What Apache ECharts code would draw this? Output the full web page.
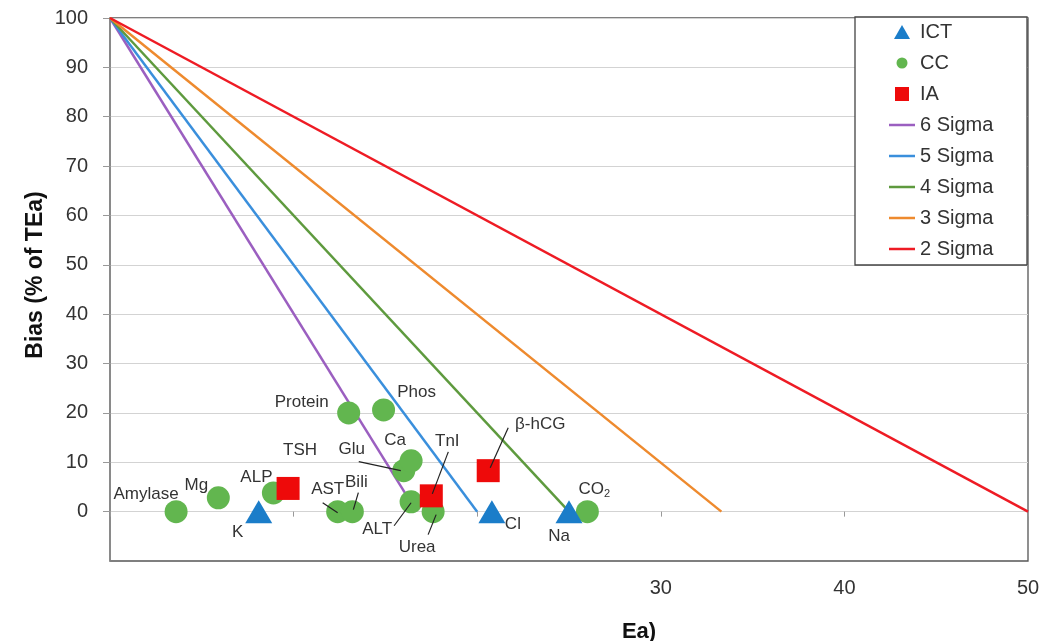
<!DOCTYPE html>
<html><head><meta charset="utf-8">
<script src="https://cdn.jsdelivr.net/npm/echarts@6/dist/echarts.min.js"></script>
<style>html,body{margin:0;padding:0;background:#fff}#c{width:1063px;height:641px}</style>
</head><body><div id="c"></div>
<script>
// ---- data ----
const ictNames = ['K', 'Cl', 'Na'];
const ictX = [8.1, 20.8, 25.0];
const ictY = [0, 0, 0];

const ccNames = ['Amylase', 'Mg', 'ALP', 'Protein', 'Phos', 'AST', 'Bili', 'Glu', 'Ca', 'ALT', 'Urea', 'CO2'];
const ccX = [3.6, 5.9, 8.9, 13.0, 14.9, 12.4, 13.2, 16.0, 16.4, 16.4, 17.6, 26.0];
const ccY = [0, 2.8, 3.8, 20.0, 20.6, 0, 0, 8.3, 10.3, 2.0, 0, 0];

const iaNames = ['TSH', 'TnI', 'β-hCG'];
const iaX = [9.7, 17.5, 20.6];
const iaY = [4.7, 3.2, 8.3];

const sigmaNames = ['6 Sigma', '5 Sigma', '4 Sigma', '3 Sigma', '2 Sigma'];
const sigmaXIntercept = [16.7, 20, 25, 33.3, 50];
const sigmaYIntercept = [100, 100, 100, 100, 100];

const xTickLabelsShown = ['30', '40', '50'];
const yTickLabels = ['0', '10', '20', '30', '40', '50', '60', '70', '80', '90', '100'];
const yTitle = 'Bias (% of TEa)';
const xTitleVisible = 'Ea)';

// ---- styles (label offsets in px relative to marker centre) ----
const labelCfg = {
  'Amylase': {off: [-30, -17]},
  'Mg': {off: [-22, -13]},
  'ALP': {off: [-17, -16]},
  'Protein': {off: [-47, -11]},
  'Phos': {off: [33, -18]},
  'AST': {off: [-10, -22], lead: [[-15, -9], [0, 1]]},
  'Bili': {off: [4, -29], lead: [[6, -19], [1, -2]]},
  'Glu': {off: [-52, -21], lead: [[-45, -9], [-3, 0]]},
  'Ca': {off: [-16, -20]},
  'ALT': {off: [-34, 28], lead: [[-17, 24], [0, 1]]},
  'Urea': {off: [-16, 36], lead: [[-5, 23], [3, 3]]},
  'CO2': {off: [7, -22]},
  'TSH': {off: [12, -38]},
  'TnI': {off: [16, -55], lead: [[17, -44], [1, -2]]},
  'β-hCG': {off: [52, -46], lead: [[20, -43], [2, -3]]},
  'K': {off: [-21, 21]},
  'Cl': {off: [21, 13]},
  'Na': {off: [-10, 25]}
};
const sigmaColors = ['#9B5FC0', '#3A8FDC', '#5E9A3E', '#EE8A2E', '#EE1B24'];
const FONT = '"Liberation Sans", Arial, sans-serif';
const ICON_TRI = 'path://M8,0L16,14L0,14Z';
const ICON_SQ = 'path://M0,0H14V14H0Z';
const ICON_CIRC = 'path://M0,0M14,14M7,1.5A5.5,5.5 0 1,1 7,12.5A5.5,5.5 0 1,1 7,1.5Z';
const ICON_LINE = 'path://M0,0H26V2.5H0Z';

function pts(names, xs, ys) {
  return names.map((n, i) => ({
    name: n, value: [xs[i], ys[i]],
    label: {offset: (labelCfg[n] || {off: [0, -20]}).off}
  }));
}
const ptLabel = {
  show: true, position: 'inside', color: '#333', fontSize: 17, fontFamily: FONT,
  textBorderWidth: 0,
  formatter: p => p.name === 'CO2' ? 'CO{s|2}' : p.name,
  rich: {s: {fontSize: 11, color: '#333', fontFamily: FONT, padding: [9, 0, 0, 0]}}
};

const series = sigmaNames.map((n, i) => ({
  name: n, type: 'line', symbol: 'none', silent: true, z: 2,
  lineStyle: {width: 2.5, color: sigmaColors[i]}, itemStyle: {color: sigmaColors[i]},
  data: [[0, sigmaYIntercept[i]], [sigmaXIntercept[i], 0]]
}));
series.push(
  {name: 'ICT', type: 'scatter', symbol: 'triangle', symbolSize: [27, 23], z: 5,
   itemStyle: {color: '#1B7DC9', opacity: 1}, label: ptLabel, data: pts(ictNames, ictX, ictY)},
  {name: 'CC', type: 'scatter', symbol: 'circle', symbolSize: 23, z: 4,
   itemStyle: {color: '#62B64F', opacity: 1}, label: ptLabel, data: pts(ccNames, ccX, ccY)},
  {name: 'IA', type: 'scatter', symbol: 'rect', symbolSize: 23, z: 5,
   itemStyle: {color: '#EE0A0A', opacity: 1}, label: ptLabel, data: pts(iaNames, iaX, iaY)}
);

const chart = echarts.init(document.getElementById('c'), null, {renderer: 'canvas'});
const baseGraphic = [
  {id: 'legendBox', type: 'rect', z: 3, shape: {x: 855, y: 17, width: 172, height: 248},
   style: {fill: '#fff', stroke: '#444', lineWidth: 1.3}},
  {id: 'yTitle', type: 'text', x: 36, y: 275, rotation: Math.PI / 2, z: 3,
   style: {text: yTitle, font: 'bold 23px ' + FONT, fill: '#111', align: 'center', verticalAlign: 'middle'}},
  {id: 'xTitle', type: 'text', x: 639, y: 632, z: 3,
   style: {text: xTitleVisible, font: 'bold 22px ' + FONT, fill: '#111', align: 'center', verticalAlign: 'middle'}}
];
const legendData = [
  {name: 'ICT', icon: ICON_TRI},
  {name: 'CC', icon: ICON_CIRC},
  {name: 'IA', icon: ICON_SQ}
].concat(sigmaNames.map(n => ({name: n, icon: ICON_LINE})));
const yTickValues = yTickLabels.map(Number);

const option = {
  animation: false,
  backgroundColor: '#fff',
  grid: {left: 110, right: 35, top: 18, bottom: 80, show: true, borderColor: '#555', borderWidth: 1.3},
  xAxis: [
    {type: 'value', min: 0, max: 50, interval: 10, position: 'bottom',
     axisLine: {show: false, onZero: false}, axisTick: {show: false}, splitLine: {show: false},
     axisLabel: {margin: 17, fontSize: 20, color: '#333', fontFamily: FONT,
       formatter: v => xTickLabelsShown.indexOf(String(v)) >= 0 ? String(v) : ''}},
    {type: 'value', min: 0, max: 50, interval: 10, position: 'bottom',
     axisLine: {show: false, onZero: true}, axisTick: {show: true, length: 5, lineStyle: {color: '#999'}},
     axisLabel: {show: false}, splitLine: {show: false}}
  ],
  yAxis: {type: 'value', min: -10, max: 100, interval: 10,
    axisLine: {show: true, lineStyle: {color: '#888', width: 1.5}},
    axisTick: {show: true, length: 7, lineStyle: {color: '#999'}, customValues: yTickValues},
    splitLine: {show: true, lineStyle: {color: '#d3d3d3', width: 1}},
    axisLabel: {margin: 22, fontSize: 20, color: '#333', fontFamily: FONT, customValues: yTickValues,
      formatter: v => yTickLabels.indexOf(String(v)) >= 0 ? String(v) : ''}},
  legend: {
    orient: 'vertical', left: 889, top: 22, padding: 0, itemGap: 11,
    itemWidth: 26, itemHeight: 14, z: 4, symbolKeepAspect: true,
    textStyle: {fontSize: 20, color: '#333', fontFamily: FONT},
    data: legendData
  },
  graphic: baseGraphic,
  series: series
};
chart.setOption(option);

// leader lines from label to marker, through the chart's own scales
const leaders = [];
const groups = [[ictNames, ictX, ictY], [ccNames, ccX, ccY], [iaNames, iaX, iaY]];
groups.forEach(([ns, xs, ys]) => ns.forEach((n, i) => {
  const c = labelCfg[n];
  if (!c || !c.lead) return;
  const p = chart.convertToPixel({gridIndex: 0}, [xs[i], ys[i]]);
  leaders.push({id: 'lead_' + n, type: 'line', z: 100,
    shape: {x1: p[0] + c.lead[0][0], y1: p[1] + c.lead[0][1], x2: p[0] + c.lead[1][0], y2: p[1] + c.lead[1][1]},
    style: {stroke: '#222', lineWidth: 1.2}});
}));
chart.setOption({graphic: baseGraphic.concat(leaders)});
</script>
</body></html>
